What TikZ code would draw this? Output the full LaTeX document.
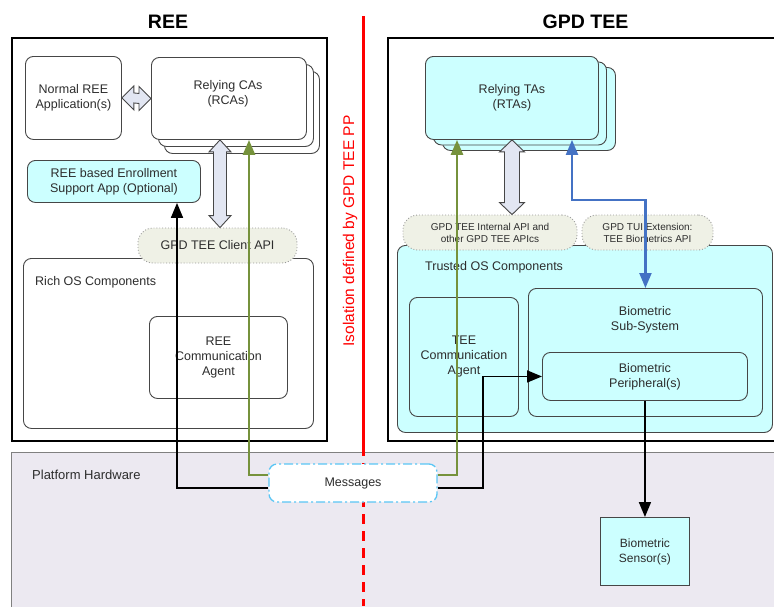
\documentclass[tikz,border=0pt]{standalone}
\usepackage{fontspec}
\setmainfont{Liberation Sans}
\usetikzlibrary{arrows.meta,calc}

\definecolor{cyanfill}{RGB}{204,255,255}
\definecolor{platfill}{RGB}{236,233,241}
\definecolor{cloudfill}{RGB}{239,241,230}
\definecolor{arrowfill}{RGB}{226,230,242}
\definecolor{boxline}{RGB}{70,70,70}
\definecolor{labeltext}{RGB}{45,45,45}
\definecolor{olivegreen}{RGB}{118,146,60}
\definecolor{linkblue}{RGB}{68,114,196}
\definecolor{msgblue}{RGB}{90,198,245}

\pgfdeclarelayer{top}
\pgfsetlayers{main,top}

\tikzset{
  frame/.style={draw=black, line width=1.5pt, inner sep=0pt, anchor=north west},
  rbox/.style={draw=boxline, line width=0.9pt, rounded corners=8pt, inner sep=0pt,
    anchor=north west, fill=white, font=\fontsize{12.5}{15}\selectfont,
    text=labeltext, align=center},
  cbox/.style={rbox, fill=cyanfill},
  cloud/.style={draw=gray!80, dotted, line width=0.9pt, fill=cloudfill,
    rounded corners=15pt, inner sep=0pt, text=labeltext, align=center},
  lbl/.style={font=\fontsize{12.5}{15}\selectfont, text=labeltext, align=center, inner sep=0pt},
  title/.style={font=\fontsize{19.5}{22}\selectfont\bfseries, inner sep=0pt},
  dblarrow/.style={draw=boxline, fill=arrowfill, line width=0.9pt, line join=miter},
  tip/.style={-{Triangle[length=15pt,width=12pt]}},
  blk/.style={draw=black, line width=1.7pt, tip},
  grn/.style={draw=olivegreen, line width=2.7pt, tip},
  blu/.style={draw=linkblue, line width=2.2pt,
    {Triangle[length=15pt,width=12pt]}-{Triangle[length=15pt,width=12pt]}},
  msgbox/.style={draw=msgblue, line width=1.3pt, dash pattern=on 9pt off 3pt on 2pt off 3pt,
    fill=white, rounded corners=8pt, inner sep=0pt,
    font=\fontsize{12.5}{15}\selectfont, text=labeltext},
}

% wide double-headed API arrow between two points:
% #1 top end, #2 bottom end, #3 half head width, #4 half shaft width, #5 head length
\newcommand\apiArrowV[5]{%
  \draw[dblarrow] (#1) -- ($(#1)+(#3,#5)$) -- ($(#1)+(#4,#5)$) -- ($(#2)+(#4,-#5)$)
    -- ($(#2)+(#3,-#5)$) -- (#2) -- ($(#2)+(-#3,-#5)$) -- ($(#2)+(-#4,-#5)$)
    -- ($(#1)+(-#4,#5)$) -- ($(#1)+(-#3,#5)$) -- cycle;}
% same, left end #1 to right end #2
\newcommand\apiArrowH[5]{%
  \draw[dblarrow] (#1) -- ($(#1)+(#5,-#3)$) -- ($(#1)+(#5,-#4)$) -- ($(#2)+(-#5,-#4)$)
    -- ($(#2)+(-#5,-#3)$) -- (#2) -- ($(#2)+(-#5,#3)$) -- ($(#2)+(-#5,#4)$)
    -- ($(#1)+(#5,#4)$) -- ($(#1)+(#5,#3)$) -- cycle;}

\begin{document}
\begin{tikzpicture}[x=1pt,y=-1pt]
\useasboundingbox (0,0) rectangle (774,606);
\fill[white] (0,0) rectangle (774,606);

% world frames
\node[frame, minimum width=315, minimum height=403] (reeFrame) at (11,37) {};
\node[frame, minimum width=400, minimum height=403] (teeFrame) at (387,37) {};
\node[title] (reeTitle) at (168,22) {REE};
\node[title] (teeTitle) at (585.5,22) {GPD TEE};

% platform hardware
\node[draw=gray, line width=0.9pt, fill=platfill, inner sep=0pt, anchor=north west,
      minimum width=780, minimum height=170] (plat) at (11,452) {};
\node[lbl, anchor=west, font=\fontsize{13}{15}\selectfont] (platText) at (32,475) {Platform Hardware};

% ---- REE side ----
\node[rbox, minimum width=96, minimum height=83] (normal) at (25,56)
  {Normal REE\\Application(s)};
\node[rbox, minimum width=155, minimum height=82] (rcaL3) at (164,71) {};
\node[rbox, minimum width=155, minimum height=82] (rcaL2) at (158,64) {};
\node[rbox, minimum width=155, minimum height=82] (rca) at (151,57) {};
\node[lbl] (rcaText) at (228,94) {Relying CAs\\(RCAs)};

\node[cbox, minimum width=173, minimum height=42] (enroll) at (27,160)
  {REE based Enrollment\\Support App (Optional)};

\node[rbox, minimum width=290, minimum height=170] (richos) at (23,258) {};
\node[lbl, anchor=west] (richText) at (35,282) {Rich OS Components};
\node[rbox, minimum width=138, minimum height=82] (reeAgent) at (149,316)
  {REE\\Communication\\Agent};

\node[cloud, minimum width=159, minimum height=35, font=\fontsize{12.5}{15}\selectfont]
  (clientApi) at (217.5,245.5) {GPD TEE Client API};

% ---- GPD TEE side ----
\node[cbox, minimum width=173, minimum height=83] (rtaL3) at (442,67) {};
\node[cbox, minimum width=173, minimum height=83] (rtaL2) at (433,61.5) {};
\node[cbox, minimum width=173, minimum height=83] (rta) at (425,56)
  {Relying TAs\\(RTAs)};

\node[cbox, minimum width=375, minimum height=187] (trustedos) at (397,245) {};
\node[lbl, anchor=west] (trustedText) at (425,267) {Trusted OS Components};
\node[cbox, minimum width=109, minimum height=119] (teeAgent) at (409,297)
  {TEE\\Communication\\Agent};
\node[cbox, minimum width=234, minimum height=128] (bio) at (528,288) {};
\node[lbl] (bioText) at (645,320) {Biometric\\Sub-System};
\node[cbox, minimum width=205, minimum height=48] (periph) at (542,352)
  {Biometric\\Peripheral(s)};

\node[cloud, minimum width=174, minimum height=35, font=\fontsize{10}{12}\selectfont]
  (internalApi) at (490,232.5) {GPD TEE Internal API and\\other GPD TEE APIcs};
\node[cloud, minimum width=131, minimum height=35, font=\fontsize{10}{12}\selectfont]
  (tuiApi) at (647.5,232.5) {GPD TUI Extension:\\TEE Biometrics API};

\node[draw=boxline, line width=0.9pt, fill=cyanfill, inner sep=0pt, anchor=north west,
      minimum width=89, minimum height=68, font=\fontsize{12}{15}\selectfont,
      text=labeltext, align=center] (sensor) at (600,517) {Biometric\\Sensor(s)};

% API double arrows
\coordinate (clientX) at (220,0);
\coordinate (internalX) at (512,0);
\coordinate (cliTop) at (rca.south -| clientX);
\coordinate (cliBot) at (clientApi.north -| clientX);
\coordinate (intTop) at (rta.south -| internalX);
\coordinate (intBot) at (internalApi.north -| internalX);
\apiArrowH{normal.east}{rca.west}{12}{5}{12}
\apiArrowV{cliTop}{cliBot}{11}{6.5}{12}
\apiArrowV{intTop}{intBot}{12.5}{7.5}{12}

% isolation boundary
\draw[red, line width=3pt] (363,16) -- (363,446);
\draw[red, line width=3pt, dash pattern=on 10pt off 7pt] (363,446) -- (363,606);
\node[rotate=90, text=red, font=\fontsize{15.5}{17}\selectfont, inner sep=0pt]
  (isoText) at (350,231) {Isolation defined by GPD TEE PP};

% message box sits above its routes
\begin{pgfonlayer}{top}
\node[msgbox, minimum width=168, minimum height=38] (msg) at (353,483) {Messages};
\end{pgfonlayer}

% message routes
\coordinate (gLeft) at (249,0);
\coordinate (bLeft) at (177,0);
\coordinate (gRight) at (457,0);
\coordinate (uRight) at (572,0);

\draw[grn] ([yshift=8pt]msg.west) -| (rca.south -| gLeft);
\draw[blk] ([yshift=-5pt]msg.west) -| (enroll.south -| bLeft);
\draw[grn] ([yshift=8pt]msg.east) -| (rta.south -| gRight);
\draw[blk] ([yshift=-5pt]msg.east) -| ($(periph.west)+(-59,0)$) -- (periph.west);
\draw[blu] (rta.south -| uRight) -- ++(0,60) -| (bio.north);
\draw[blk] (periph.south) -- (sensor.north);
\end{tikzpicture}
\end{document}
